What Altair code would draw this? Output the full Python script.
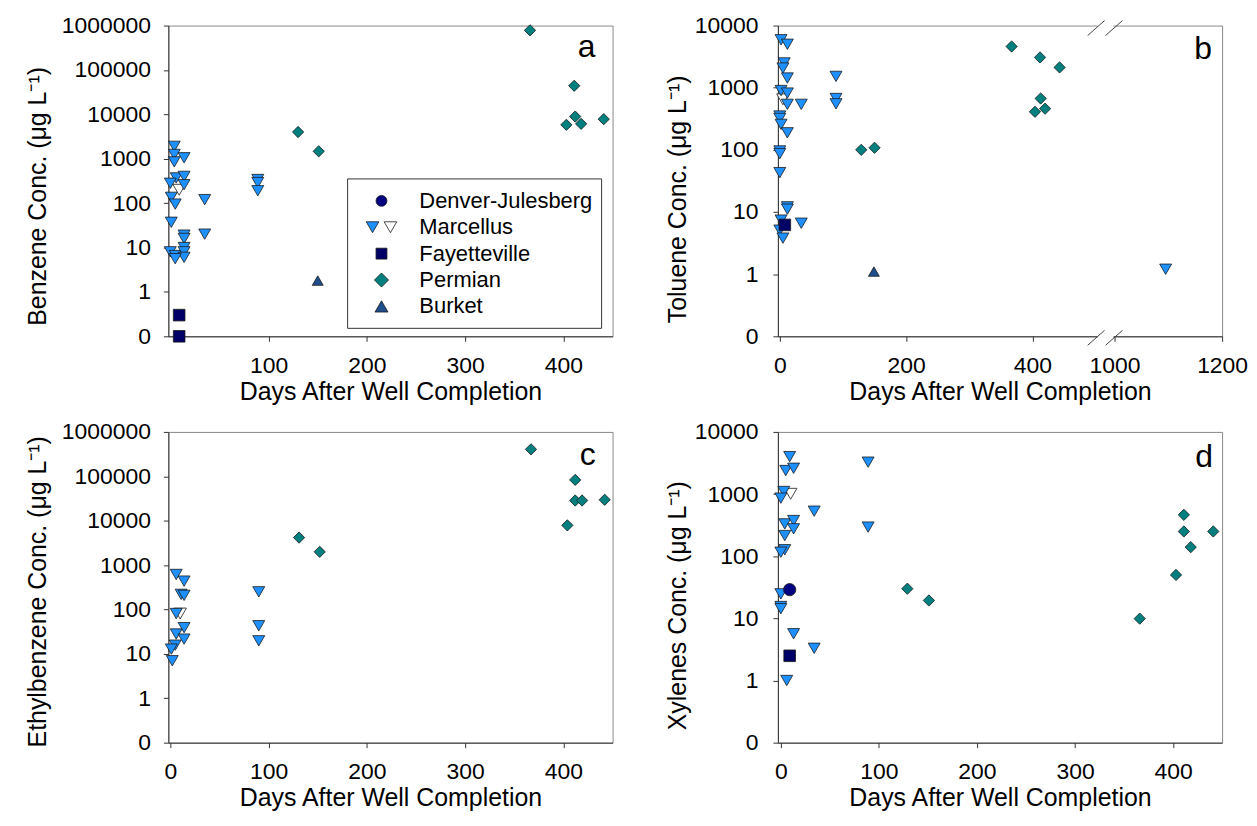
import altair as alt
import pandas as pd

FONT = "Liberation Sans"

# ---------------- categories / styles ----------------
groups = ["Marcellus (open)", "Denver-Julesberg", "Marcellus", "Fayetteville", "Permian", "Burket"]
shapes = ["triangle-down", "circle", "triangle-down", "square", "diamond", "triangle-up"]
fills = ["#FFFFFF", "#000080", "#1E90FF", "#000066", "#007F7F", "#1F4E8C"]
sizes = [160, 120, 160, 120, 200, 170]
legend_labels = ["Denver-Julesberg", "Marcellus", "Fayetteville", "Permian", "Burket"]

# ---------------- panel a : Benzene ----------------
a_marc_days = [4, 4, 4, 14, 6, 14, 14, 0, 1, 5, 35, 1, 14, 14, 35, 0, 5, 14, 14, 14, 5, 89, 89, 89]
a_marc_vals = [1900, 1250, 850, 1050, 370, 400, 260, 280, 135, 95, 120, 37, 19, 16, 20, 8, 6.6, 10, 8, 6, 5.6, 340, 290, 190]
a_open_days = [9]
a_open_vals = [200]
a_perm_days = [366, 411, 412, 403, 418, 441, 130, 151]
a_perm_vals = [780000, 44000, 8900, 5800, 6100, 7800, 4000, 1470]
a_burk_days = [150]
a_burk_vals = [1.8]
a_fay_days = [9, 9]
a_fay_vals = [0.3, 0]

# ---------------- panel b : Toluene ----------------
b_marc_days = [2, 12, 7, 5, 12, 89, 2, 12, 12, 34, 89, 89, 0, 0, 2, 12, 0, 0, 0, 12, 12, 2, 34, 0, 5, 1095]
b_marc_vals = [5900, 5000, 2500, 2070, 1430, 1520, 900, 820, 540, 540, 670, 550, 350, 320, 257, 188, 96, 87, 43, 12.1, 11.1, 7.4, 6.6, 5.1, 3.8, 1.2]
b_open_days = [5]
b_open_vals = [650]
b_perm_days = [367, 412, 443, 413, 420, 404, 129, 150]
b_perm_vals = [4600, 3070, 2120, 670, 460, 410, 100, 108]
b_burk_days = [149]
b_burk_vals = [1.1]
b_fay_days = [8]
b_fay_vals = [6.2]

# ---------------- panel c : Ethylbenzene ----------------
c_marc_days = [6, 14, 11, 14, 6, 14, 6, 14, 5, 1, 2, 90, 90, 90]
c_marc_vals = [615, 435, 219, 208, 81, 39, 28, 21.5, 15.7, 12.8, 7.0, 250, 43, 19.7]
c_open_days = [10]
c_open_vals = [81]
c_perm_days = [367, 412, 412, 419, 442, 404, 131, 152]
c_perm_vals = [405000, 83000, 28500, 28500, 29600, 7850, 4160, 1990]

# ---------------- panel d : Xylenes ----------------
d_marc_days = [9, 5, 13, 89, 3, 0, 34, 4, 13, 13, 4, 89, 4, 0, 0, 0, 0, 13, 34, 6]
d_marc_vals = [4000, 2390, 2600, 3260, 1100, 860, 530, 331, 375, 276, 215, 294, 127, 116, 24.8, 15.5, 14.3, 5.65, 3.3, 1.0]
d_open_days = [10]
d_open_vals = [1010]
d_perm_days = [411, 411, 441, 418, 403, 366, 129, 151]
d_perm_vals = [463, 250, 250, 140, 50, 9.9, 30, 19.4]
d_dj_days = [9]
d_dj_vals = [29]
d_fay_days = [9]
d_fay_vals = [2.5]


def frame(parts):
    rows = []
    for g, days, vals in parts:
        for d, v in zip(days, vals):
            rows.append({"day": d, "conc": v, "group": g})
    return pd.DataFrame(rows)


df_a = frame([("Marcellus (open)", a_open_days, a_open_vals), ("Marcellus", a_marc_days, a_marc_vals),
              ("Permian", a_perm_days, a_perm_vals), ("Burket", a_burk_days, a_burk_vals),
              ("Fayetteville", a_fay_days, a_fay_vals)])
df_b = frame([("Marcellus (open)", b_open_days, b_open_vals), ("Marcellus", b_marc_days, b_marc_vals),
              ("Permian", b_perm_days, b_perm_vals), ("Burket", b_burk_days, b_burk_vals),
              ("Fayetteville", b_fay_days, b_fay_vals)])
df_c = frame([("Marcellus (open)", c_open_days, c_open_vals), ("Marcellus", c_marc_days, c_marc_vals),
              ("Permian", c_perm_days, c_perm_vals)])
df_d = frame([("Marcellus (open)", d_open_days, d_open_vals), ("Marcellus", d_marc_days, d_marc_vals),
              ("Permian", d_perm_days, d_perm_vals), ("Denver-Julesberg", d_dj_days, d_dj_vals),
              ("Fayetteville", d_fay_days, d_fay_vals)])

W, H = 446, 312
ONE = pd.DataFrame({"k": [0]})
LABEL = "datum.value < 0 ? '0' : format(pow(10, datum.value), 'd')"
XTITLE = "Days After Well Completion"
STROKE = "#1a1a1a"


def panel(df, ymax, ytitle, ytitleY, letter, lxy, left, xscale, xvalues, extra=()):
    ext = 100 if left else 70
    yaxis = alt.Axis(values=list(range(-1, ymax + 1)), labelExpr=LABEL, title=ytitle,
                     minExtent=ext, maxExtent=ext, titlePadding=18, titleY=ytitleY,
                     labelPadding=13 if left else 15)
    xaxis = alt.Axis(values=xvalues, title=XTITLE, format="d", minExtent=40, maxExtent=40,
                     titlePadding=3, labelPadding=13, labelFlush=False, labelOverlap=False)
    pts = alt.Chart(df).transform_calculate(
        lv="datum.conc > 0 ? log(datum.conc) / LN10 : -1"
    ).mark_point(filled=True, opacity=1, stroke=STROKE, strokeWidth=0.8).encode(
        x=alt.X("day:Q", scale=xscale, axis=xaxis),
        y=alt.Y("lv:Q", scale=alt.Scale(domain=[-1, ymax], nice=False, zero=False), axis=yaxis),
        shape=alt.Shape("group:N", scale=alt.Scale(domain=groups, range=shapes), legend=None),
        fill=alt.Fill("group:N", scale=alt.Scale(domain=groups, range=fills), legend=None),
        size=alt.Size("group:N", scale=alt.Scale(domain=groups, range=sizes), legend=None),
    )
    txt = alt.Chart(ONE).mark_text(font=FONT, fontSize=32, align="center", baseline="middle",
                                   color="black").encode(
        text=alt.value(letter), x=alt.value(lxy[0]), y=alt.value(lxy[1]))
    return alt.layer(pts, *extra, txt).properties(width=W, height=H)


# legend for panel a (drawn as marks inside the plot)
leg = [alt.Chart(ONE).mark_rect(fill="white", stroke="#333", strokeWidth=1).encode(
    x=alt.value(180), x2=alt.value(435), y=alt.value(154), y2=alt.value(304))]
sym_rows = [[("Denver-Julesberg", 214)], [("Marcellus", 205), ("Marcellus (open)", 223)],
            [("Fayetteville", 214)], [("Permian", 214)], [("Burket", 214)]]
for i, lab in enumerate(legend_labels):
    yy = 176 + i * 26.5
    for g, xx in sym_rows[i]:
        k = groups.index(g)
        leg.append(alt.Chart(ONE).mark_point(filled=True, opacity=1, shape=shapes[k], fill=fills[k],
                                             size=sizes[k], stroke=STROKE, strokeWidth=0.8).encode(
            x=alt.value(xx), y=alt.value(yy)))
    leg.append(alt.Chart(ONE).mark_text(font=FONT, fontSize=22, align="left", baseline="middle",
                                        color="black").encode(
        text=alt.value(lab), x=alt.value(252), y=alt.value(yy)))

# axis break for panel b
brk = []
for (y1, y2) in [(308, 318), (-2, 3)]:
    brk.append(alt.Chart(ONE).mark_rect(fill="white").encode(
        x=alt.value(321), x2=alt.value(337), y=alt.value(y1), y2=alt.value(y2)))
for cy in [313, 2]:
    for cx in [320, 338]:
        brk.append(alt.Chart(ONE).mark_rule(color="#444", strokeWidth=1).encode(
            x=alt.value(cx - 9), x2=alt.value(cx + 8), y=alt.value(cy + 8), y2=alt.value(cy - 7)))

xs_lin = alt.Scale(domain=[-2, 450], nice=False, zero=False)
xs_d = alt.Scale(domain=[-3, 450], nice=False, zero=False)
xs_brk = alt.Scale(domain=[-3, 500, 1000, 1200], range=[0, 319, 338, W], nice=False, zero=False)

pa = panel(df_a, 6, "Benzene Conc. (μg L⁻¹)", 171, "a", (420, 22), True, xs_lin,
           [100, 200, 300, 400], leg)
pb = panel(df_b, 4, "Toluene Conc. (μg L⁻¹)", 174, "b", (427, 24), False, xs_brk,
           [0, 200, 400, 1000, 1200], brk)
pc = panel(df_c, 6, "Ethylbenzene Conc. (μg L⁻¹)", 160, "c", (421, 23), True, xs_lin,
           [0, 100, 200, 300, 400])
pd_ = panel(df_d, 4, "Xylenes Conc. (μg L⁻¹)", 174, "d", (428, 25), False, xs_d,
            [0, 100, 200, 300, 400])

chart = alt.concat(pa, pb, pc, pd_, columns=2, spacing={"row": 96, "column": 166}).properties(
    bounds="flush", padding={"left": 17, "top": 4, "right": 0, "bottom": 0}
).resolve_scale(x="independent", y="independent").configure_view(
    stroke="#888", strokeWidth=1
).configure_axis(
    labelFont=FONT, titleFont=FONT, labelFontSize=23, titleFontSize=25, titleFontWeight="normal",
    labelColor="black", titleColor="black", grid=False, tickSize=5, tickColor="#333",
    domainColor="#333"
)

chart.save("out.html", embed_options={"renderer": "svg", "actions": False})
